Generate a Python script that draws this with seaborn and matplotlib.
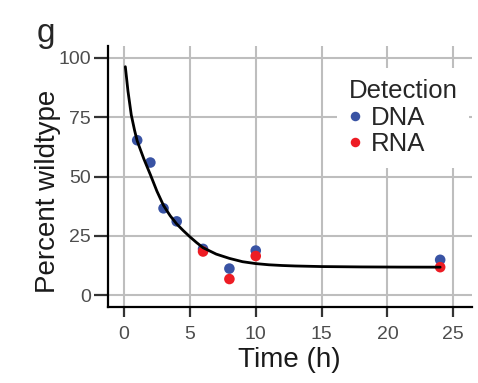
import matplotlib
matplotlib.use("Agg")
import matplotlib.pyplot as plt
import seaborn as sns
import pandas as pd

# Data
dna_time = [1, 2, 3, 4, 6, 8, 10, 24]
dna_pct = [65.3, 55.9, 36.6, 31.1, 19.5, 11.2, 18.8, 14.9]
rna_time = [6, 8, 10, 24]
rna_pct = [18.4, 6.8, 16.5, 11.8]

# Fitted curve
fit_time = [0.1, 0.3, 0.55, 0.8, 1, 1.5, 2, 2.5, 3, 3.5, 4, 4.5, 5, 5.5, 6,
            7, 8, 9, 10, 11, 12, 13, 15, 18, 21, 24]
fit_pct = [96.3, 86.0, 76.0, 69.5, 65.0, 57.5, 50.8, 43.8, 37.8, 33.5, 30.0,
           27.2, 24.6, 22.2, 20.0, 17.3, 15.5, 14.1, 13.3, 12.8, 12.5, 12.3,
           12.05, 11.9, 11.83, 11.8]

x_ticks = [0, 5, 10, 15, 20, 25]
y_ticks = [0, 25, 50, 75, 100]
colors = {"DNA": "#3953A4", "RNA": "#ED1C24"}

df = pd.DataFrame({
    "Time": dna_time + rna_time,
    "Percent": dna_pct + rna_pct,
    "Detection": ["DNA"] * len(dna_time) + ["RNA"] * len(rna_time),
})

sns.set_theme(style="white")
plt.rcParams["font.family"] = ["Liberation Sans", "DejaVu Sans"]

fig = plt.figure(figsize=(4.78, 3.83), dpi=100)
ax = fig.add_axes([0.225, 0.199, 0.762, 0.682])

sns.scatterplot(data=df, x="Time", y="Percent", hue="Detection", palette=colors,
                s=58, edgecolor="none", linewidth=0, ax=ax, zorder=3)
sns.lineplot(x=fit_time, y=fit_pct, color="black", linewidth=2.0, ax=ax,
             legend=False, zorder=4)

ax.set_xlim(-1.25, 26.4)
ax.set_ylim(-4.9, 105.2)
ax.set_xticks(x_ticks)
ax.set_yticks(y_ticks)
ax.grid(True, color="#BEBEBE", linewidth=1.5)
ax.set_axisbelow(True)

for s in ["top", "right"]:
    ax.spines[s].set_visible(False)
for s in ["left", "bottom"]:
    ax.spines[s].set_color("black")
    ax.spines[s].set_linewidth(1.6)

ax.tick_params(axis="y", length=10, width=1.6, color="#333333", labelsize=14,
               labelcolor="#4D4D4D", pad=2, left=True)
ax.tick_params(axis="x", length=7, width=1.6, color="#333333", labelsize=14,
               labelcolor="#4D4D4D", pad=7, bottom=True)

ax.set_xlabel("Time (h)", fontsize=20, color="#1A1A1A", labelpad=3)
ax.set_ylabel("Percent wildtype", fontsize=20, color="#1A1A1A")
ax.yaxis.set_label_coords(-0.128, 0.443)

handles, labels = ax.get_legend_handles_labels()
leg = ax.legend(handles, labels, title="Detection", loc="upper left",
                bbox_to_anchor=(0.63, 0.915), frameon=True, facecolor="white",
                edgecolor="none", framealpha=1, fontsize=18.5, title_fontsize=18.5,
                alignment="left", handletextpad=0.35, labelspacing=0.1,
                borderpad=0.45, borderaxespad=0, handlelength=0.5, markerscale=0.9)
leg.set_zorder(5)

fig.text(37 / 478, 1 - 42 / 383, "g", fontsize=24, ha="left", va="baseline")

fig.savefig("out.png", dpi=100)
